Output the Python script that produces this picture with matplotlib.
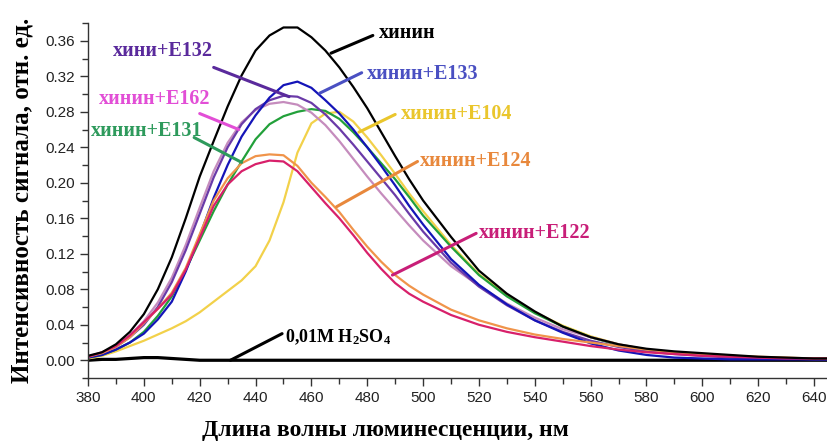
import numpy as np
import matplotlib
matplotlib.use('Agg')
from matplotlib import pyplot as plt
from matplotlib.ticker import MultipleLocator, FormatStrFormatter

plt.rcParams['mathtext.fontset'] = 'custom'
plt.rcParams['mathtext.rm'] = 'Liberation Serif:bold'
plt.rcParams['mathtext.it'] = 'Liberation Serif:bold'
plt.rcParams['mathtext.bf'] = 'Liberation Serif:bold'

# emission wavelength grid, nm
wl = [380, 385, 390, 395, 400, 405, 410, 415, 420, 425, 430, 435, 440, 445,
      450, 455, 460, 465, 470, 475, 480, 485, 490, 495, 500, 510, 520, 530,
      540, 550, 560, 570, 580, 590, 600, 610, 620, 630, 640, 645]

quinine = [0.005, 0.009, 0.018, 0.032, 0.052, 0.080, 0.116, 0.160, 0.207, 0.247,
           0.286, 0.321, 0.349, 0.366, 0.375, 0.375, 0.364, 0.349, 0.330, 0.308,
           0.284, 0.257, 0.230, 0.204, 0.180, 0.139, 0.101, 0.075, 0.055, 0.038,
           0.026, 0.018, 0.013, 0.010, 0.008, 0.006, 0.004, 0.003, 0.002, 0.002]
e133 = [0.003, 0.006, 0.012, 0.020, 0.030, 0.046, 0.066, 0.100, 0.140, 0.183,
        0.220, 0.252, 0.276, 0.296, 0.310, 0.314, 0.307, 0.293, 0.278, 0.260,
        0.240, 0.219, 0.197, 0.174, 0.153, 0.114, 0.085, 0.063, 0.045, 0.031,
        0.019, 0.011, 0.006, 0.003, 0.002, 0.001, 0.001, 0.001, 0.001, 0.001]
e132 = [0.004, 0.008, 0.015, 0.026, 0.040, 0.060, 0.088, 0.124, 0.165, 0.206,
        0.240, 0.266, 0.283, 0.293, 0.298, 0.297, 0.290, 0.277, 0.261, 0.243,
        0.224, 0.205, 0.186, 0.165, 0.145, 0.110, 0.083, 0.062, 0.045, 0.032,
        0.022, 0.015, 0.010, 0.007, 0.005, 0.003, 0.002, 0.002, 0.001, 0.001]
e162 = [0.004, 0.008, 0.016, 0.028, 0.044, 0.065, 0.093, 0.130, 0.172, 0.213,
        0.245, 0.268, 0.282, 0.289, 0.291, 0.288, 0.279, 0.265, 0.247, 0.227,
        0.207, 0.188, 0.170, 0.152, 0.135, 0.106, 0.084, 0.064, 0.048, 0.035,
        0.026, 0.018, 0.012, 0.008, 0.006, 0.004, 0.003, 0.002, 0.002, 0.002]
e131 = [0.003, 0.006, 0.012, 0.020, 0.032, 0.050, 0.072, 0.102, 0.135, 0.168,
        0.198, 0.224, 0.249, 0.266, 0.275, 0.280, 0.283, 0.281, 0.272, 0.257,
        0.240, 0.222, 0.204, 0.184, 0.163, 0.128, 0.096, 0.072, 0.053, 0.038,
        0.026, 0.017, 0.012, 0.008, 0.006, 0.004, 0.003, 0.002, 0.002, 0.002]
e104 = [0.002, 0.005, 0.010, 0.016, 0.022, 0.029, 0.036, 0.044, 0.054, 0.066,
        0.078, 0.090, 0.106, 0.135, 0.178, 0.234, 0.267, 0.278, 0.280, 0.269,
        0.251, 0.231, 0.210, 0.188, 0.168, 0.130, 0.097, 0.074, 0.054, 0.039,
        0.027, 0.018, 0.012, 0.008, 0.006, 0.004, 0.003, 0.002, 0.002, 0.002]
e124 = [0.004, 0.008, 0.015, 0.026, 0.042, 0.058, 0.076, 0.104, 0.142, 0.180,
        0.205, 0.222, 0.230, 0.232, 0.231, 0.219, 0.200, 0.184, 0.167, 0.147,
        0.128, 0.111, 0.096, 0.084, 0.074, 0.057, 0.045, 0.036, 0.029, 0.024,
        0.020, 0.016, 0.012, 0.009, 0.007, 0.005, 0.004, 0.003, 0.002, 0.002]
e122 = [0.004, 0.009, 0.016, 0.028, 0.043, 0.058, 0.074, 0.102, 0.138, 0.174,
        0.198, 0.213, 0.221, 0.225, 0.224, 0.213, 0.195, 0.177, 0.160, 0.141,
        0.121, 0.103, 0.087, 0.075, 0.066, 0.051, 0.040, 0.032, 0.026, 0.021,
        0.016, 0.012, 0.009, 0.007, 0.005, 0.004, 0.003, 0.002, 0.002, 0.002]
h2so4 = [0.000, 0.001, 0.001, 0.002, 0.003, 0.003, 0.002, 0.001, 0.000, 0.000,
         0.000, 0.000, 0.000, 0.000, 0.000, 0.000, 0.000, 0.000, 0.000, 0.000,
         0.000, 0.000, 0.000, 0.000, 0.000, 0.000, 0.000, 0.000, 0.000, 0.000,
         0.000, 0.000, 0.000, 0.000, 0.000, 0.000, 0.000, 0.000, 0.000, 0.000]

# (series, line colour, label, label colour, text pos, pointer start, pointer end)
series = [
    (e104, '#f2d14a', 'хинин+E104', '#eac62c', (492, 0.277), (477, 0.257), (490, 0.277)),
    (e131, '#22a03a', 'хинин+E131', '#2e9a5c', (381, 0.258), (435, 0.223), (418, 0.251)),
    (e162, '#c58cbd', 'хинин+E162', '#e24ed6', (384, 0.294), (434, 0.260), (420, 0.278)),
    (e132, '#6a3aa8', 'хини+E132', '#5a2a9c', (389, 0.348), (452, 0.297), (425, 0.330)),
    (e133, '#1414b8', 'хинин+E133', '#4a50c2', (480, 0.323), (463, 0.301), (478, 0.324)),
    (e124, '#f0944a', 'хинин+E124', '#e8883c', (499, 0.225), (469, 0.173), (498, 0.224)),
    (e122, '#d8206a', 'хинин+E122', '#c81e78', (520, 0.143), (489, 0.096), (519, 0.143)),
    (quinine, '#000000', 'хинин', '#000000', (484, 0.369), (467, 0.346), (482, 0.366)),
]

fig = plt.figure(figsize=(8.28, 4.43), dpi=100)
ax = fig.add_axes([0.1063, 0.1467, 0.8937, 0.8013])

ax.plot(wl, h2so4, color='black', lw=2.3)
for vals, col, text, tcol, tpos, p0, p1 in series:
    ax.plot(wl, vals, color=col, lw=1.6, solid_joinstyle='round')
for vals, col, text, tcol, tpos, p0, p1 in series:
    ax.annotate('', xy=p0, xytext=p1,
                arrowprops=dict(arrowstyle='-', color=tcol, lw=2.2,
                                shrinkA=0, shrinkB=0))
    ax.text(tpos[0], tpos[1], text, color=tcol, fontsize=14.5,
            family='Liberation Serif', fontweight='bold', va='center')

ax.annotate('', xy=(431, 0.0), xytext=(449.5, 0.030),
            arrowprops=dict(arrowstyle='-', color='black', lw=2.2,
                            shrinkA=0, shrinkB=0))
ax.text(450.5, 0.0265, '0,01M H$_{2}$SO$_{4}$', color='black', fontsize=13,
        family='Liberation Serif', fontweight='bold', va='center')

ax.set_xlim(380, 645)
ax.set_ylim(-0.02, 0.38)
ax.xaxis.set_major_locator(MultipleLocator(20))
ax.xaxis.set_minor_locator(MultipleLocator(10))
ax.yaxis.set_major_locator(MultipleLocator(0.04))
ax.yaxis.set_minor_locator(MultipleLocator(0.02))
ax.yaxis.set_major_formatter(FormatStrFormatter('%.2f'))
ax.spines['top'].set_visible(False)
ax.spines['right'].set_visible(False)
for s in ('left', 'bottom'):
    ax.spines[s].set_color('#333333')
    ax.spines[s].set_linewidth(1.0)
ax.tick_params(which='major', direction='out', length=6, width=1, color='#333333',
               labelsize=11, labelcolor='#222222')
ax.tick_params(which='minor', direction='out', length=4, width=1, color='#333333')
for lab in ax.get_xticklabels() + ax.get_yticklabels():
    lab.set_family('Liberation Sans')

fig.text(0.466, 0.028, 'Длина волны люминесценции, нм', fontsize=17,
         family='Liberation Serif', fontweight='bold', ha='center', va='center')
fig.text(0.027, 0.547, 'Интенсивность сигнала, отн. ед.', fontsize=18,
         family='Liberation Serif', fontweight='bold', ha='center', va='center',
         rotation=90)

fig.savefig('out.png', dpi=100)
